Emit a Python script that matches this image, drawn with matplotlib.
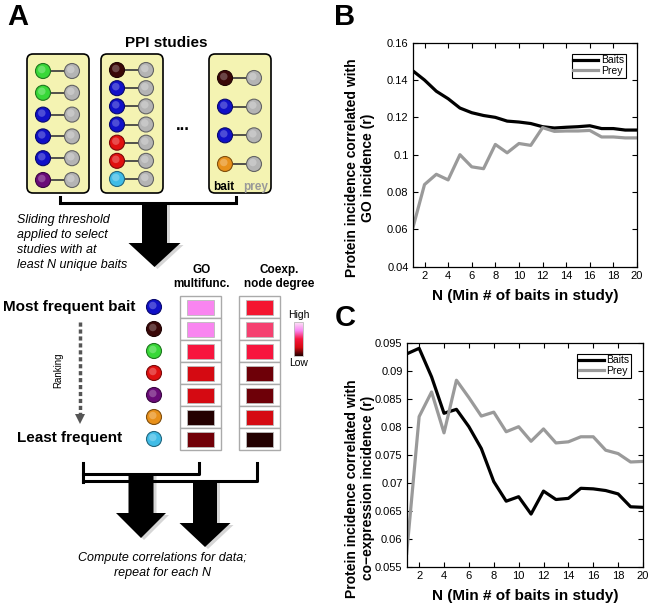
import numpy as np
import matplotlib
matplotlib.use("Agg")
import matplotlib.pyplot as plt
from matplotlib.patches import Circle, Rectangle, FancyBboxPatch, Polygon
from matplotlib.colors import LinearSegmentedColormap, to_rgb

plt.rcParams['font.family'] = ['Liberation Sans', 'DejaVu Sans']

# ---- data ----
n_baits = np.arange(1, 21)
go_baits = [0.145, 0.140, 0.134, 0.130, 0.125, 0.1225, 0.121, 0.120, 0.118, 0.1175,
            0.1167, 0.115, 0.1143, 0.1147, 0.115, 0.1155, 0.114, 0.114, 0.1132, 0.1132]
go_prey = [0.0605, 0.084, 0.0895, 0.0865, 0.100, 0.0935, 0.0925, 0.1055, 0.101, 0.106,
           0.105, 0.1145, 0.1125, 0.1127, 0.1127, 0.113, 0.1095, 0.1095, 0.109, 0.109]
coexp_baits = [0.093, 0.094, 0.0889, 0.0824, 0.0831, 0.080, 0.0761, 0.0702, 0.0667, 0.0675,
               0.0644, 0.0685, 0.067, 0.0672, 0.069, 0.0689, 0.0686, 0.068, 0.0657, 0.0656]
coexp_prey = [0.0574, 0.0818, 0.0862, 0.0789, 0.0883, 0.0852, 0.0819, 0.0826, 0.0791, 0.080,
              0.0774, 0.0796, 0.0771, 0.0773, 0.0782, 0.0782, 0.0758, 0.0752, 0.0737, 0.0738]

bait_colors = {'green': '#38d838', 'blue': '#1010c8', 'purple': '#6a0a78', 'brown': '#3a0808',
               'red': '#e01010', 'cyan': '#40bce6', 'orange': '#e8901a'}
studies = [['green', 'green', 'blue', 'blue', 'blue', 'purple'],
           ['brown', 'blue', 'blue', 'blue', 'red', 'red', 'cyan'],
           ['brown', 'blue', 'blue', 'orange']]
ranking = ['blue', 'brown', 'green', 'red', 'purple', 'orange', 'cyan']
go_cells = ['#f985f0', '#f985f0', '#f7153e', '#d50a12', '#d50a12', '#230000', '#720008']
coexp_cells = ['#f41530', '#f54070', '#f7153e', '#6e0008', '#6e0008', '#d50a12', '#230000']
scale_colors = ['#230000', '#d50a12', '#f7153e', '#f985f0', '#fde4f8']

fig = plt.figure(figsize=(6.54, 6.08), dpi=100)

# ---- panel A: schematic drawn in pixel coordinates ----
ax0 = fig.add_axes([0, 0, 1, 1])
ax0.set_xlim(0, 654)
ax0.set_ylim(608, 0)
ax0.axis('off')


def ball(x, y, c, r=7.5):
    rgb = np.array(to_rgb(c))
    ax0.add_patch(Circle((x, y), r, fc=c, ec=tuple(rgb * 0.55), lw=0.8, zorder=3))
    ax0.add_patch(Circle((x - 1.2, y - 1.5), r * 0.5, fc=tuple(rgb + (1 - rgb) * 0.25),
                         ec='none', zorder=4))


def block_arrow(cx, stem, y0, ybase, head, ytip):
    pts = [(cx - stem, y0), (cx + stem, y0), (cx + stem, ybase), (cx + head, ybase),
           (cx, ytip), (cx - head, ybase), (cx - stem, ybase)]
    sh = [(x + 3, y + 2) for x, y in pts]
    ax0.add_patch(Polygon(sh, closed=True, fc='#999999', ec='none', alpha=0.4, zorder=1))
    ax0.add_patch(Polygon(pts, closed=True, fc='black', ec='none', zorder=2))


ax0.text(7, 17, 'A', fontsize=21, fontweight='bold', va='center', ha='left')
ax0.text(166, 43, 'PPI studies', fontsize=11, fontweight='bold', ha='center', va='center')

box_left = [27, 101, 209]
row_span = [(71, 180), (70, 179), (78, 164)]
for left, (y1, y2), baits in zip(box_left, row_span, studies):
    ax0.add_patch(FancyBboxPatch((left, 54), 62, 139, boxstyle='round,pad=0,rounding_size=6',
                                 fc='#f4f3b2', ec='black', lw=1.2, zorder=1))
    for y, b in zip(np.linspace(y1, y2, len(baits)), baits):
        ax0.plot([left + 16, left + 45], [y, y], color='#444444', lw=1.3, zorder=2)
        ball(left + 16, y, bait_colors[b])
        ball(left + 45, y, '#b4b4b4')
ax0.text(183, 125, '...', fontsize=12, fontweight='bold', ha='center', va='center')
ax0.text(224, 187, 'bait', fontsize=8.5, fontweight='bold', ha='center', va='center')
ax0.text(256, 187, 'prey', fontsize=8.5, fontweight='bold', ha='center', va='center',
         color='#999999')

# top bracket and arrow
ax0.plot([60, 60, 236, 236], [197, 203, 203, 197], color='black', lw=2.2,
         solid_joinstyle='miter', zorder=2)
block_arrow(154.5, 12.5, 203, 243, 26, 267)
for i, line in enumerate(['Sliding threshold', 'applied to select',
                          'studies with at', 'least N unique baits']):
    ax0.text(17, 220 + 15 * i, line, fontsize=9, style='italic', ha='left', va='center')

ax0.text(202, 277, 'GO\nmultifunc.', fontsize=8.5, fontweight='bold', ha='center',
         va='center', linespacing=1.15)
ax0.text(279, 277, 'Coexp.\nnode degree', fontsize=8.5, fontweight='bold', ha='center',
         va='center', linespacing=1.15)

# ranked baits and heatmap cells
row_h = 22
row_top = 296
for i, (b, cg, cc) in enumerate(zip(ranking, go_cells, coexp_cells)):
    yc = row_top + row_h * (i + 0.5)
    ball(154, yc, bait_colors[b])
    for x0, c in [(180, cg), (239, cc)]:
        ax0.add_patch(Rectangle((x0, row_top + row_h * i), 41, row_h, fc='white',
                                ec='#aaaaaa', lw=1.0, zorder=2))
        ax0.add_patch(Rectangle((x0 + 7, yc - 7.5), 27, 15, fc=c, ec='#bbbbbb',
                                lw=0.6, zorder=3))

ax0.text(3, 307, 'Most frequent bait', fontsize=11, fontweight='bold', ha='left', va='center')
ax0.text(70, 438, 'Least frequent', fontsize=11, fontweight='bold', ha='center', va='center')
ax0.plot([80, 80], [322, 414], color='#555555', lw=2.5, ls=(0, (1.2, 0.8)), zorder=2)
ax0.add_patch(Polygon([(75, 414), (85, 414), (80, 424)], closed=True, fc='#555555',
                      ec='none', zorder=2))
ax0.text(58, 370, 'Ranking', fontsize=7, rotation=90, ha='center', va='center')

# colour scale
scale_cmap = LinearSegmentedColormap.from_list('hilo', scale_colors)
ax0.imshow(np.linspace(0, 1, 100)[:, None], cmap=scale_cmap, origin='lower',
           extent=(294, 303, 356, 322), aspect='auto', zorder=2)
ax0.add_patch(Rectangle((294, 322), 9, 34, fc='none', ec='#bbbbbb', lw=0.6, zorder=3))
ax0.set_xlim(0, 654)
ax0.set_ylim(608, 0)
ax0.text(298.5, 315, 'High', fontsize=7.5, ha='center', va='center')
ax0.text(298.5, 363, 'Low', fontsize=7.5, ha='center', va='center')

# lower brackets and arrows
ax0.plot([83, 83], [463, 482], color='black', lw=2.2, zorder=2)
ax0.plot([83, 199, 199], [474, 474, 463], color='black', lw=2.2, zorder=2)
ax0.plot([83, 257, 257], [481, 481, 463], color='black', lw=2.2, zorder=2)
block_arrow(141, 12.5, 474, 513, 25, 538)
block_arrow(205, 12, 481, 523, 25.5, 547)
ax0.text(162, 558, 'Compute correlations for data;', fontsize=9, style='italic',
         ha='center', va='center')
ax0.text(162, 573, 'repeat for each N', fontsize=9, style='italic', ha='center', va='center')

# ---- panels B and C ----
W, H = 654, 608
axB = fig.add_axes([412.7 / W, 1 - 266.7 / H, 224.3 / W, 224 / H])
axC = fig.add_axes([406.7 / W, 1 - 566.7 / H, 236.3 / W, 224 / H])

panels = [
    (axB, go_baits, go_prey, (0.04, 0.16), np.arange(0.04, 0.161, 0.02),
     ['0.04', '0.06', '0.08', '0.1', '0.12', '0.14', '0.16'],
     'Protein incidence correlated with\nGO incidence (r)', 'B', 0.44),
    (axC, coexp_baits, coexp_prey, (0.055, 0.095), np.arange(0.055, 0.0951, 0.005),
     ['0.055', '0.06', '0.065', '0.07', '0.075', '0.08', '0.085', '0.09', '0.095'],
     'Protein incidence correlated with\nco\u2212expression incidence (r)', 'C', 0.35),
]
for ax, baits, prey, ylim, yticks, ylabels, ylab, letter, ly in panels:
    ax.plot(n_baits, baits, color='black', lw=2.3, label='Baits')
    ax.plot(n_baits, prey, color='#9a9a9a', lw=2.3, label='Prey')
    ax.set_xlim(1, 20)
    ax.set_ylim(*ylim)
    ax.set_xticks(np.arange(2, 21, 2))
    ax.set_yticks(yticks)
    ax.set_yticklabels(ylabels)
    ax.tick_params(direction='in', top=True, right=True, length=3.5, labelsize=8, pad=3)
    for s in ax.spines.values():
        s.set_linewidth(0.9)
    ax.set_xlabel('N (Min # of baits in study)', fontsize=11, fontweight='bold', labelpad=6)
    ax.set_ylabel(ylab, fontsize=10, fontweight='bold')
    pos = ax.get_position()
    ax.yaxis.set_label_coords((375 - pos.x0 * W) / (pos.width * W), ly)
    leg = ax.legend(loc='upper right', bbox_to_anchor=(0.95, 0.95), borderaxespad=0,
                    fontsize=7.5, fancybox=False, edgecolor='black', framealpha=1,
                    handlelength=2.4, handletextpad=0.25, labelspacing=0.05, borderpad=0.15)
    leg.get_frame().set_linewidth(0.8)
    fig.text(345 / W, 1 - (17 if letter == 'B' else 318) / H, letter, fontsize=21,
             fontweight='bold', ha='center', va='center')

fig.savefig('out.png', dpi=100)
